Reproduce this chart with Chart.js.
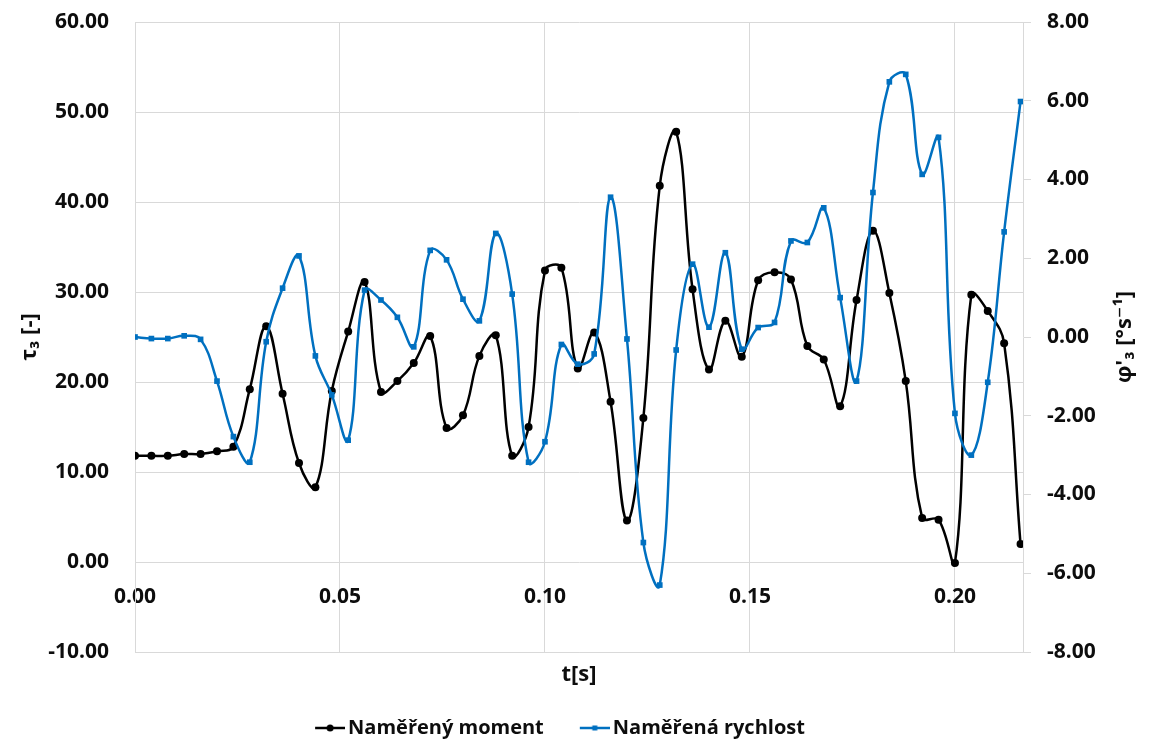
<!DOCTYPE html>
<html>
<head>
<meta charset="utf-8">
<script src="https://cdn.jsdelivr.net/npm/chart.js@4/dist/chart.umd.min.js"></script>
<style>
    body { margin: 0; background: #ffffff; }
    #wrap { width: 1150px; height: 745px; }
</style>
</head>
<body>
<div id="wrap"><canvas id="momentChart" width="1150" height="745"></canvas></div>
<script>
// cas [s]
const times = [0.000, 0.004, 0.008, 0.012, 0.016, 0.020, 0.024, 0.028, 0.032, 0.036,
    0.040, 0.044, 0.048, 0.052, 0.056, 0.060, 0.064, 0.068, 0.072, 0.076,
    0.080, 0.084, 0.088, 0.092, 0.096, 0.100, 0.104, 0.108, 0.112, 0.116,
    0.120, 0.124, 0.128, 0.132, 0.136, 0.140, 0.144, 0.148, 0.152, 0.156,
    0.160, 0.164, 0.168, 0.172, 0.176, 0.180, 0.184, 0.188, 0.192, 0.196,
    0.200, 0.204, 0.208, 0.212, 0.216];

// tau3 [-]
const moment = [11.8, 11.8, 11.8, 12.0, 12.0, 12.3, 12.8, 19.2, 26.2, 18.7,
    11.0, 8.3, 19.0, 25.6, 31.1, 18.9, 20.1, 22.1, 25.1, 14.9,
    16.3, 22.9, 25.2, 11.8, 15.0, 32.4, 32.7, 21.5, 25.5, 17.8,
    4.6, 16.0, 41.8, 47.8, 30.3, 21.4, 26.8, 22.8, 31.3, 32.2,
    31.4, 24.0, 22.5, 17.3, 29.1, 36.8, 29.9, 20.1, 4.9, 4.7,
    -0.1, 29.7, 27.9, 24.3, 2.0];

// phi'3 [deg/s]
const speed = [0.00, -0.04, -0.04, 0.03, -0.06, -1.12, -2.53, -3.18, -0.12, 1.24,
    2.06, -0.48, -1.47, -2.62, 1.19, 0.94, 0.50, -0.25, 2.20, 1.96,
    0.96, 0.41, 2.63, 1.09, -3.18, -2.66, -0.19, -0.69, -0.43, 3.55,
    -0.05, -5.22, -6.30, -0.33, 1.85, 0.25, 2.14, -0.31, 0.24, 0.37,
    2.44, 2.40, 3.28, 1.00, -1.12, 3.67, 6.48, 6.67, 4.13, 5.07,
    -1.94, -3.00, -1.15, 2.67, 5.98];

const seriesNames = ['Naměřený moment', 'Naměřená rychlost'];
const seriesColors = ['#000000', '#0070c0'];

const leftTicks = { min: -10, max: 60, step: 10 };
const rightTicks = { min: -8, max: 8, step: 2 };
const xTicks = { min: 0, max: 0.2166, step: 0.05 };

document.addEventListener('DOMContentLoaded', function () {
    const ctx = document.getElementById('momentChart').getContext('2d');
    const font = "'Open Sans', 'DejaVu Sans', sans-serif";
    const textColor = '#0d0d0d';
    const gridColor = '#d9d9d9';

    function toPoints(values) {
        return values.map((v, i) => ({ x: times[i], y: v }));
    }

    // little line + marker picture for the legend
    function legendMarker(color, shape) {
        const c = document.createElement('canvas');
        c.width = 55;
        c.height = 14;
        const g = c.getContext('2d');
        g.strokeStyle = color;
        g.fillStyle = color;
        g.lineWidth = 2.5;
        g.beginPath();
        g.moveTo(25, 7);
        g.lineTo(55, 7);
        g.stroke();
        if (shape === 'circle') {
            g.beginPath();
            g.arc(40, 7, 3.5, 0, Math.PI * 2);
            g.fill();
        } else {
            g.fillRect(37.5, 4.5, 5, 5);
        }
        return c;
    }
    const markers = [legendMarker(seriesColors[0], 'circle'), legendMarker(seriesColors[1], 'rect')];

    const rightTitle = {
        id: 'rightTitle',
        afterDraw(chart) {
            const area = chart.chartArea;
            const c = chart.ctx;
            c.save();
            c.translate(area.right + 102, (area.top + area.bottom) / 2);
            c.rotate(-Math.PI / 2);
            c.font = 'bold 22px ' + font;
            c.fillStyle = textColor;
            c.textAlign = 'center';
            c.textBaseline = 'middle';
            c.fillText("φ'₃ [°s⁻¹]", 0, 0);
            c.restore();
        }
    };

    new Chart(ctx, {
        type: 'line',
        data: {
            datasets: [{
                label: seriesNames[0],
                data: toPoints(moment),
                yAxisID: 'y',
                borderColor: seriesColors[0],
                backgroundColor: seriesColors[0],
                borderWidth: 2.5,
                pointStyle: 'circle',
                pointRadius: 4,
                pointBorderWidth: 0,
                tension: 0.4,
                order: 2
            }, {
                label: seriesNames[1],
                data: toPoints(speed),
                yAxisID: 'y1',
                borderColor: seriesColors[1],
                backgroundColor: seriesColors[1],
                borderWidth: 2.5,
                pointStyle: 'rect',
                pointRadius: 4,
                pointBorderWidth: 0,
                tension: 0.4,
                order: 1
            }]
        },
        options: {
            responsive: false,
            animation: false,
            layout: { padding: { top: 22, right: 48, left: 0, bottom: -3 } },
            plugins: {
                tooltip: { enabled: false },
                legend: {
                    position: 'bottom',
                    labels: {
                        color: textColor,
                        font: { family: font, size: 20, weight: 'bold' },
                        usePointStyle: true,
                        pointStyleWidth: 41,
                        padding: 18,
                        generateLabels: function () {
                            return seriesNames.map((name, i) => ({
                                text: name,
                                pointStyle: markers[i],
                                fillStyle: seriesColors[i],
                                strokeStyle: seriesColors[i],
                                lineWidth: 0,
                                fontColor: textColor,
                                hidden: false,
                                datasetIndex: i
                            }));
                        }
                    }
                }
            },
            scales: {
                x: {
                    type: 'linear',
                    position: 'bottom',
                    min: xTicks.min,
                    max: xTicks.max,
                    grid: { color: gridColor, drawTicks: false },
                    border: { color: gridColor },
                    ticks: { display: false, stepSize: xTicks.step, includeBounds: false },
                    title: {
                        display: true,
                        text: 't[s]',
                        color: textColor,
                        font: { family: font, size: 22, weight: 'bold' },
                        padding: { top: 0, bottom: 12 }
                    },
                    afterFit: function (scale) { scale.height = 48; }
                },
                x2: {
                    type: 'linear',
                    position: { y: 0 },
                    min: xTicks.min,
                    max: xTicks.max,
                    grid: { display: false, drawTicks: false },
                    border: { display: false },
                    ticks: {
                        stepSize: xTicks.step,
                        includeBounds: false,
                        padding: 22,
                        color: textColor,
                        font: { family: font, size: 21, weight: 'bold' },
                        callback: v => v.toFixed(2)
                    }
                },
                y: {
                    type: 'linear',
                    position: 'left',
                    min: leftTicks.min,
                    max: leftTicks.max,
                    grid: { color: gridColor, drawTicks: false },
                    border: { color: gridColor },
                    ticks: {
                        stepSize: leftTicks.step,
                        padding: 26,
                        color: textColor,
                        font: { family: font, size: 21, weight: 'bold' },
                        callback: v => v.toFixed(2)
                    },
                    title: {
                        display: true,
                        text: 'τ₃ [-]',
                        color: textColor,
                        font: { family: font, size: 22, weight: 'bold' },
                        padding: { top: 17, bottom: 0 }
                    },
                    afterFit: function (scale) {
                        scale.width = 135;
                        scale.paddingTop = 10;
                        scale.paddingBottom = 10;
                    }
                },
                y1: {
                    type: 'linear',
                    position: 'right',
                    min: rightTicks.min,
                    max: rightTicks.max,
                    grid: { drawOnChartArea: false, color: gridColor, tickLength: 8 },
                    border: { color: gridColor },
                    ticks: {
                        stepSize: rightTicks.step,
                        padding: 16,
                        color: textColor,
                        font: { family: font, size: 21, weight: 'bold' },
                        callback: v => v.toFixed(2)
                    },
                    afterFit: function (scale) {
                        scale.width = 79;
                        scale.paddingTop = 10;
                        scale.paddingBottom = 10;
                    }
                }
            }
        },
        plugins: [rightTitle]
    });
});
</script>
</body>
</html>
